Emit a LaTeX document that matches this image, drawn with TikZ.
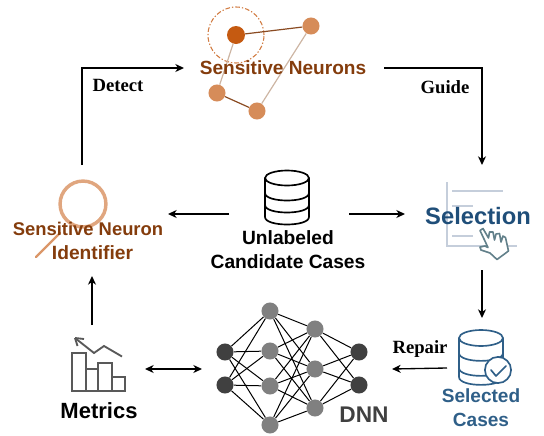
\documentclass[tikz,border=0pt]{standalone}
\usepackage{fontspec}
\setmainfont{Liberation Sans}
\newfontfamily\lblserif{Liberation Serif}
\usetikzlibrary{arrows.meta,calc}
\definecolor{brownTxt}{HTML}{843C0C}
\definecolor{neuronDark}{HTML}{C55A11}
\definecolor{neuronLight}{HTML}{D68C59}
\definecolor{ringLight}{HTML}{E0A67F}
\definecolor{edgeLight}{HTML}{CDB5A3}
\definecolor{edgeDark}{HTML}{8A4B22}
\definecolor{blueTxt}{HTML}{1F4E79}
\definecolor{blueIcon}{HTML}{2F5F88}
\definecolor{paleBlue}{HTML}{C5CEDB}
\definecolor{handGrey}{HTML}{62808A}
\tikzset{
  x=0.75pt,y=-0.75pt,
  hub/.style={inner sep=0pt,outer sep=0pt,minimum width=#1},
  arr/.style={line width=1pt,-{Stealth[length=6.5pt,width=6pt,inset=2pt]}},
  dblarr/.style={line width=1pt,{Stealth[length=6.5pt,width=6pt,inset=2pt]}-{Stealth[length=6.5pt,width=6pt,inset=2pt]}},
  neuron/.style={circle,draw=none,fill=neuronLight,minimum size=12.8pt,inner sep=0pt},
  hot/.style={neuron,fill=neuronDark,minimum size=13.5pt},
  netdark/.style={circle,fill=black!75,minimum size=12.8pt,inner sep=0pt},
  netmid/.style={circle,fill=black!50,minimum size=12.8pt,inner sep=0pt},
  netedge/.style={line width=0.75pt,black},
  title/.style={font=\fontsize{#1}{#1}\selectfont\bfseries,align=center,inner sep=0pt},
  serifl/.style={font=\lblserif\fontsize{14}{14}\selectfont\bfseries,inner sep=0pt},
}
\begin{document}
\begin{tikzpicture}
\useasboundingbox (0,0) rectangle (544,436);
% invisible anchor boxes for the connectors
\node[hub=150pt,minimum height=10pt] (neuronsHub) at (284,68) {};
\node[hub=129pt,minimum height=83.25pt] (identifierHub) at (82,220.5) {};
\node[hub=90pt,minimum height=10pt] (candidatesHub) at (289,214) {};
\node[hub=115.5pt,minimum height=78.75pt] (selectionHub) at (482,217.5) {};
\node[hub=52.5pt,minimum height=75pt] (selectedHub) at (482,368) {};
\node[hub=142.5pt,minimum height=10pt] (dnnHub) at (297,369) {};
\node[hub=79.5pt,minimum height=66pt] (metricsHub) at (92,369) {};
% connectors
\draw[arr] (identifierHub.north) |- (neuronsHub.west);
\draw[arr] (neuronsHub.east) -| (selectionHub.north);
\draw[arr] (selectionHub.south) -- (selectedHub.north);
\draw[arr] (selectedHub.west) -- (dnnHub.east);
\draw[dblarr] (dnnHub.west) -- (metricsHub.east);
\draw[arr] (metricsHub.north) -- (metricsHub.north |- identifierHub.south);
\draw[arr] (candidatesHub.west) -- (candidatesHub.west -| identifierHub.east);
\draw[arr] (candidatesHub.east) -- (candidatesHub.east -| selectionHub.west);
\node[serifl] (detectLbl) at (118,85) {Detect};
\node[serifl] (guideLbl) at (445,87) {Guide};
\node[serifl] (repairLbl) at (420,349) {Repair};
% sensitive neurons
\node[hot] (n1) at (236,35) {};
\node[neuron] (n2) at (311,26) {};
\node[neuron] (n3) at (217,93) {};
\node[neuron] (n4) at (257,111) {};
\draw[neuronDark!80!white,line width=0.8pt,dash pattern=on 3.5pt off 1.5pt on 1pt off 1.5pt] (n1) circle[radius=21pt];
\draw[edgeDark,line width=0.9pt] (n1) -- (n2);
\draw[edgeDark,line width=0.9pt] (n3) -- (n4);
\draw[edgeLight,line width=0.9pt] (n1) -- (n3);
\draw[edgeLight,line width=0.9pt] (n2) -- (n4);
\node[title=14.3,text=brownTxt] (neuronsTxt) at (283,68) {Sensitive Neurons};
% identifier
\draw[ringLight,line width=2.6pt] (83,204) circle[radius=17.2pt];
\draw[ringLight!80!neuronDark,line width=1.8pt,line cap=round] (60,233) -- (36,257);
\node[title=13.8,text=brownTxt] (identTxtA) at (88,229) {Sensitive Neuron};
\node[title=14.4,text=brownTxt] (identTxtB) at (92.5,253) {Identifier};
% candidates
\begin{scope}[black,line width=1.25pt]
\draw (265,178) -- (265,217) .. controls (265,227) and (309,227) .. (309,217) -- (309,178);
\draw (287,178) ellipse[x radius=22,y radius=7.5];
\draw (265,193) .. controls (265,203) and (309,203) .. (309,193);
\draw (265,205) .. controls (265,215) and (309,215) .. (309,205);
\end{scope}
\node[title=14.4,text=black] (candTxt) at (288,249.5) {Unlabeled\\[3.6pt]Candidate Cases};
% selection icon
\begin{scope}[paleBlue,line width=1.5pt]
\draw (447,182) -- (447,246) -- (517,246);
\draw (452,191) -- (503,191);
\draw (452,206) -- (473,206);
\draw (452,236) -- (473,236);
\end{scope}
\node[title=17.8,text=blueTxt] (selTxt) at (478,216) {Selection};
\draw[handGrey,line width=1.2pt,line join=round,fill=white]
  (480,230.5) -- (483,228.5) -- (488.5,238) -- (489.5,232) -- (493,232) -- (494.5,240) -- (496,234) -- (499.5,233.5) -- (501,242)
  -- (503,236) -- (505.5,237.5) -- (508.5,251) -- (497,259.5) -- (490,253) -- (481,250) -- (480,247) -- (485,246) -- (488,247.5) -- cycle;
% selected cases
\begin{scope}[blueIcon,line width=1.25pt]
\draw (459,338) -- (459,377) .. controls (459,387.5) and (503,387.5) .. (503,377) -- (503,338);
\draw (481,338) ellipse[x radius=22,y radius=8];
\draw (459,353) .. controls (459,363.5) and (503,363.5) .. (503,353);
\draw (459,368) .. controls (459,378.5) and (503,378.5) .. (503,368);
\draw[fill=white] (498,370) circle[radius=9.8pt];
\draw[line cap=round,line join=round] (491,370) -- (496,376) -- (506,366);
\end{scope}
\node[title=14.3,text=blueIcon] (selectedTxt) at (481,407.5) {Selected\\[3.7pt]Cases};
% DNN
\foreach \n/\x/\y in {b/270/311,c/270/351,d/270/386,e/270/425,f/315/329,g/315/369,h/315/408}
  \node[netmid] (\n) at (\x,\y) {};
\foreach \n/\x/\y in {a1/225/352,a2/225/385,z1/359/352,z2/359/385}
  \node[netdark] (\n) at (\x,\y) {};
\foreach \s in {a1,a2} \foreach \t in {b,c,d,e} \draw[netedge] (\s) -- (\t);
\foreach \s in {b,c,d,e} \foreach \t in {f,g,h} \draw[netedge] (\s) -- (\t);
\foreach \s in {f,g,h} \foreach \t in {z1,z2} \draw[netedge] (\s) -- (\t);
\node[title=17,text=black!75] (dnnTxt) at (364,415) {DNN};
% metrics
\begin{scope}[black!65,line width=1.4pt,line join=miter]
\draw (72,353) rectangle (86,391);
\draw (86,369) rectangle (98,391);
\draw (98,363) rectangle (112,391);
\draw (112,377) rectangle (125,391);
\draw (122,356.5) -- (104,346) -- (94,353) -- (75,338);
\draw (75,338) -- (84,339);
\draw (75,338) -- (77.5,346);
\end{scope}
\node[title=16.5,text=black] (metricsTxt) at (99,411) {Metrics};
\end{tikzpicture}
\end{document}
